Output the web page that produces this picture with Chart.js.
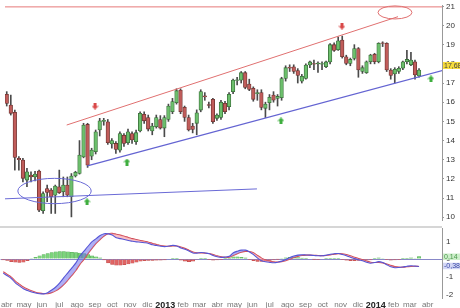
<!DOCTYPE html>
<html>
<head>
<meta charset="utf-8">
<script src="https://cdn.jsdelivr.net/npm/chart.js@4.4.1/dist/chart.umd.min.js"></script>
<style>
  html, body { margin: 0; padding: 0; background: #fff; }
  #wrap { position: relative; width: 460px; height: 308px; overflow: hidden; }
  #priceChart { position: absolute; left: 0; top: 0; }
  #macdChart { position: absolute; left: 0; top: 226px; }
</style>
</head>
<body>
<div id="wrap">
  <canvas id="priceChart" width="460" height="225"></canvas>
  <canvas id="macdChart" width="460" height="82"></canvas>
</div>
<script>
// weekly candles, first week starts 26 mar 2012
const firstWeek = new Date(2012, 2, 26);

const opens = [16.98,16.41,15.85,15.47,13.07,12.98,11.94,12.2,12.1,12.41,10.34,11.5,11.42,11.15,11.59,11.33,11.68,11.07,12.15,12.29,
  13.15,14.84,13.19,13.42,14.55,15.0,14.98,13.82,13.85,13.5,14.28,13.89,14.37,13.94,14.5,15.37,15.2,14.5,14.72,15.1,
  14.65,15.1,15.5,15.97,16.63,15.73,15.2,14.76,14.9,15.59,16.33,15.88,16.15,15.16,15.21,15.94,15.77,16.55,17.13,17.15,
  17.54,16.95,16.72,16.45,16.5,15.68,15.97,16.37,16.2,16.23,17.24,17.82,17.85,17.65,17.1,17.24,17.94,18.02,18.0,17.98,
  17.85,18.1,19.0,18.73,19.24,18.37,18.02,18.28,18.8,17.6,17.54,18.11,18.5,18.11,19.1,19.07,17.68,17.47,17.6,17.77,
  18.11,17.95,18.11,17.37];
const highs = [17.07,16.55,16.37,15.59,13.16,13.07,12.55,12.37,12.4,12.46,11.33,11.68,11.5,11.68,12.46,12.1,12.1,12.28,12.4,14.0,
  14.9,14.9,13.6,14.55,15.16,15.16,15.1,14.1,13.95,14.46,14.37,14.6,14.45,14.55,15.5,15.5,15.33,14.9,15.33,15.3,
  15.3,15.9,16.2,16.7,16.7,15.8,15.33,14.9,15.6,16.65,16.5,16.0,16.2,15.4,16.1,16.05,16.5,17.2,17.3,17.6,
  17.6,17.2,16.8,16.65,16.65,16.0,16.4,16.55,16.4,17.3,17.9,17.95,17.95,17.75,17.45,18.0,18.15,18.2,18.1,18.1,
  18.15,19.05,19.1,19.4,19.45,18.45,18.3,19.0,18.85,17.9,18.15,18.5,18.55,19.1,19.15,19.1,17.75,17.8,17.85,18.15,
  18.7,18.6,18.2,17.75];
const lows = [16.37,15.8,15.33,12.46,12.46,11.85,11.59,11.85,11.9,10.29,10.2,10.81,10.2,10.2,11.24,11.07,11.07,10.02,12.1,12.25,
  13.1,12.6,13.0,13.3,14.24,14.8,13.8,13.6,13.33,13.4,13.7,13.8,13.85,13.8,14.45,14.9,14.5,14.3,14.65,14.6,
  14.2,15.0,15.4,15.9,15.4,15.0,14.5,14.4,14.3,15.5,16.1,15.7,14.9,15.05,15.1,15.4,15.6,16.45,16.9,17.0,
  16.7,16.6,16.05,16.1,15.6,15.2,15.6,16.0,15.8,16.1,17.1,17.6,17.5,17.0,17.0,17.2,17.8,17.7,17.55,17.7,
  17.8,18.0,18.65,18.7,18.3,17.95,17.9,18.2,17.3,17.5,17.5,18.0,18.0,18.05,18.9,17.6,17.2,17.0,17.5,17.7,
  18.0,17.9,17.2,17.3];
const closes = [16.55,15.94,15.42,13.12,13.0,12.03,12.37,12.1,12.25,10.37,11.24,11.3,11.07,11.63,11.28,11.68,11.15,12.15,12.34,13.24,
  14.81,12.72,13.5,14.46,15.03,15.06,13.89,14.0,13.54,14.37,13.85,14.46,14.03,14.41,15.42,15.03,14.6,14.76,15.2,14.65,
  15.2,15.8,16.03,16.6,15.5,15.2,14.55,14.58,15.45,16.55,16.28,15.83,14.98,15.33,16.0,15.5,16.41,17.15,17.17,17.54,
  16.77,16.67,16.15,16.5,15.73,15.9,16.26,16.1,16.3,17.23,17.8,17.78,17.6,17.4,17.35,17.94,18.1,17.98,18.04,18.02,
  18.1,19.0,18.7,19.2,18.37,18.02,18.23,18.8,17.68,17.8,18.11,18.46,18.11,19.07,19.06,17.68,17.4,17.72,17.77,18.11,
  18.23,18.2,17.42,17.68];

// MACD panel, one value per week
const macdLine = [-0.8,-0.95,-1.1,-1.35,-1.52,-1.68,-1.78,-1.86,-1.92,-1.96,-1.97,-1.9,-1.75,-1.58,-1.35,-1.05,-0.78,-0.5,-0.22,0.18,
  0.45,0.72,0.98,1.15,1.33,1.43,1.42,1.35,1.2,1.15,1.1,1.05,1.0,0.97,0.95,0.92,0.88,0.8,0.76,0.72,
  0.7,0.73,0.77,0.74,0.62,0.55,0.45,0.34,0.33,0.37,0.34,0.3,0.2,0.13,0.09,0.11,0.15,0.35,0.44,0.5,
  0.5,0.4,0.25,0.05,-0.1,-0.16,-0.19,-0.21,-0.18,-0.12,-0.03,0.08,0.17,0.22,0.24,0.23,0.22,0.2,0.18,0.18,
  0.22,0.27,0.3,0.31,0.25,0.18,0.1,0.02,-0.04,-0.1,-0.18,-0.24,-0.2,-0.15,-0.2,-0.32,-0.44,-0.49,-0.48,-0.45,
  -0.41,-0.38,-0.4,-0.42];
const signalLine = [-0.72,-0.87,-1.02,-1.25,-1.42,-1.58,-1.7,-1.8,-1.88,-1.93,-1.96,-1.96,-1.9,-1.8,-1.65,-1.45,-1.2,-0.93,-0.65,-0.3,
  -0.02,0.3,0.6,0.88,1.1,1.3,1.43,1.45,1.4,1.35,1.28,1.22,1.15,1.1,1.05,1.0,0.95,0.88,0.82,0.76,
  0.73,0.72,0.74,0.73,0.68,0.6,0.5,0.4,0.35,0.34,0.33,0.31,0.25,0.18,0.12,0.1,0.1,0.2,0.3,0.38,
  0.43,0.42,0.35,0.2,0.05,-0.06,-0.12,-0.16,-0.17,-0.15,-0.1,-0.02,0.08,0.15,0.2,0.22,0.22,0.21,0.2,0.19,
  0.2,0.23,0.27,0.3,0.3,0.25,0.18,0.1,0.03,-0.04,-0.11,-0.18,-0.2,-0.2,-0.22,-0.28,-0.36,-0.43,-0.46,-0.46,
  -0.44,-0.42,-0.41,-0.42];
const macdHist = [-0.05,-0.08,-0.15,-0.18,-0.2,-0.18,-0.1,0.03,0.1,0.18,0.25,0.3,0.36,0.4,0.42,0.42,0.4,0.38,0.36,0.34,
  0.3,0.25,0.18,0.12,0.06,-0.05,-0.22,-0.3,-0.35,-0.35,-0.32,-0.28,-0.24,-0.18,-0.12,-0.1,-0.08,-0.08,-0.07,-0.06,
  -0.05,0.0,0.02,0.01,-0.06,-0.12,-0.15,-0.12,-0.03,0.04,0.02,-0.02,-0.06,-0.05,-0.02,0.02,0.06,0.12,0.12,0.1,
  0.06,-0.02,-0.1,-0.14,-0.14,-0.12,-0.08,-0.05,-0.01,0.03,0.07,0.1,0.1,0.08,0.05,0.02,0.0,-0.01,-0.02,0.0,
  0.02,0.04,0.04,0.02,-0.04,-0.07,-0.09,-0.1,-0.08,-0.07,-0.06,-0.05,0.02,0.06,0.03,-0.04,-0.06,-0.05,-0.02,0.02,
  0.04,0.06,0.03,0.14];
const macdLast = -0.38;

const monthLabels = ['abr','may','jun','jul','ago','sep','oct','nov','dic','2013','feb','mar',
  'abr','may','jun','jul','ago','sep','oct','nov','dic','2014','feb','mar','abr'];
const priceTicks = [10,11,12,13,14,15,16,17,18,19,20,21];
const macdTicks = [1,0,-1,-2];

// drawn lines and marks, in [week, price]
const topLine = [[-1, 20.97], [110, 20.97]];
const resistLine = [[15.83, 14.81], [97.8, 20.46]];
const supportLine = [[20.93, 12.68], [110, 17.72]];
const baseLine = [[-1, 10.95], [62.9, 11.48]];
const blueEllipse = [12.82, 11.37, 9.08, 0.66];
const redEllipse = [97.05, 20.68, 4.2, 0.34];
const arrowsDown = [[22.84, 15.8], [83.94, 19.97]];
const arrowsUp = [[20.86, 10.8], [30.75, 12.88], [68.85, 15.02], [105.96, 17.21]];

const weekMs = 7 * 24 * 3600 * 1000;
const monthWeeks = monthLabels.map((m, k) => (new Date(2012, 3 + k, 1) - firstWeek) / weekMs);
const fmt = v => v.toFixed(2).replace('.', ',');
const FONT = '"Liberation Sans", Arial, sans-serif';

// pixel layout of the reference: week 0 at x=2.7, 4.042px per week
const WEEK0_PX = 2.7, WEEK_PX = 4.042;

function makeArrow(color, down) {
    const c = document.createElement('canvas');
    c.width = 7; c.height = 7;
    const g = c.getContext('2d');
    g.fillStyle = color;
    g.beginPath();
    [[3.5,0],[7,3.5],[5,3.5],[5,7],[2,7],[2,3.5],[0,3.5]].forEach(([x, y], i) => {
        const yy = down ? 7 - y : y;
        if (i) g.lineTo(x, yy); else g.moveTo(x, yy);
    });
    g.closePath();
    g.fill();
    return c;
}

const toPts = arr => arr.map(p => ({x: p[0], y: p[1]}));
const up = (i) => closes[i] >= opens[i];
const yAxisFit = s => { s.width = 18; s.paddingTop = 0; s.paddingBottom = 0; };

// match value ranges to the chart area actually laid out
function pin(chart, refVal, refPx, unitPx) {
    const a = chart.chartArea;
    const sx = chart.options.scales.x, sy = chart.options.scales.y;
    sx.min = (a.left - WEEK0_PX) / WEEK_PX;
    sx.max = (a.right - WEEK0_PX) / WEEK_PX;
    sy.max = refVal + (refPx - a.top) / unitPx;
    sy.min = refVal - (a.bottom - refPx) / unitPx;
    chart.update();
}

const shapes = {
    id: 'shapes',
    afterDatasetsDraw(chart) {
        const {ctx, scales: {x, y}} = chart;
        [[blueEllipse, '#6a6ad6'], [redEllipse, '#e07070']].forEach(([e, col]) => {
            const cx = x.getPixelForValue(e[0]), cy = y.getPixelForValue(e[1]);
            const rx = x.getPixelForValue(e[0] + e[2]) - cx;
            const ry = cy - y.getPixelForValue(e[1] + e[3]);
            ctx.save();
            ctx.strokeStyle = col;
            ctx.lineWidth = 1;
            ctx.beginPath();
            ctx.ellipse(cx, cy, rx, ry, 0, 0, Math.PI * 2);
            ctx.stroke();
            ctx.restore();
        });
    },
    afterDraw(chart) {
        const {ctx, scales: {y}} = chart;
        const last = closes[closes.length - 1];
        const py = y.getPixelForValue(last) - 4.5;
        ctx.save();
        ctx.fillStyle = '#f7dc3c';
        ctx.fillRect(443, py - 3.5, 17, 7);
        ctx.fillStyle = '#444';
        ctx.font = '7px ' + FONT;
        ctx.textBaseline = 'middle';
        ctx.fillText(fmt(last), 444, py + 0.5);
        ctx.restore();
    }
};

const priceChart = new Chart(document.getElementById('priceChart'), {
    type: 'bar',
    data: {
        datasets: [
            {
                type: 'bar', label: 'wick', order: 3, grouped: false,
                data: highs.map((h, i) => ({x: i, y: [lows[i], h]})),
                backgroundColor: '#4a4a4a', barThickness: 1
            },
            {
                type: 'bar', label: 'body', order: 2, grouped: false,
                data: opens.map((o, i) => ({x: i, y: [o, Math.abs(closes[i] - o) < 0.04 ? o + (up(i) ? 0.04 : -0.04) : closes[i]]})),
                backgroundColor: opens.map((o, i) => up(i) ? '#6cbf6c' : '#c05c5a'),
                borderColor: opens.map((o, i) => up(i) ? '#3a6e3a' : '#6e3432'),
                borderWidth: 0.8, borderSkipped: false, barThickness: 3.6
            },
            { type: 'line', order: 1, data: toPts(topLine), borderColor: '#e67878', borderWidth: 1, pointRadius: 0 },
            { type: 'line', order: 1, data: toPts(resistLine), borderColor: '#e07070', borderWidth: 1, pointRadius: 0 },
            { type: 'line', order: 1, data: toPts(supportLine), borderColor: '#6464d2', borderWidth: 1.2, pointRadius: 0 },
            { type: 'line', order: 1, data: toPts(baseLine), borderColor: '#6a6ad6', borderWidth: 1, pointRadius: 0 },
            { type: 'scatter', order: 0, data: toPts(arrowsDown), pointStyle: makeArrow('#d94848', true) },
            { type: 'scatter', order: 0, data: toPts(arrowsUp), pointStyle: makeArrow('#3fae3f', false) }
        ]
    },
    options: {
        responsive: false,
        animation: false,
        layout: { padding: 0 },
        plugins: { legend: { display: false }, tooltip: { enabled: false } },
        scales: {
            x: { type: 'linear', min: -0.668, max: 108.68, offset: false, display: false },
            y: {
                position: 'right', min: 9.6, max: 21.33, beginAtZero: false,
                afterFit: yAxisFit,
                afterBuildTicks: s => { s.ticks = priceTicks.map(v => ({value: v})); },
                grid: { drawOnChartArea: false, tickLength: 2, color: '#999' },
                border: { display: true, color: '#999' },
                ticks: { padding: 2, color: '#333', font: { size: 8, family: FONT } }
            }
        }
    },
    plugins: [shapes]
});
pin(priceChart, 21, 6.3, 19.18);

const macdLabels = {
    id: 'macdLabels',
    beforeDraw(chart) {
        const {ctx} = chart;
        ctx.save();
        ctx.fillStyle = '#d6d6d6';
        ctx.fillRect(0, 0, 442, 2);
        ctx.restore();
    },
    afterDraw(chart) {
        const {ctx, scales: {y}} = chart;
        const boxes = [
            [macdHist[macdHist.length - 1], '#cdeecb', '#4c9a4c'],
            [macdLast, '#d3d6f4', '#3a4aa8']
        ];
        ctx.save();
        ctx.font = '7px ' + FONT;
        ctx.textBaseline = 'middle';
        boxes.forEach(([v, bg, fg]) => {
            const py = y.getPixelForValue(v);
            ctx.fillStyle = bg;
            ctx.fillRect(443, py - 3, 17, 6.5);
            ctx.fillStyle = fg;
            ctx.fillText(fmt(v), 444, py + 0.5);
        });
        ctx.restore();
    }
};

const macdChart = new Chart(document.getElementById('macdChart'), {
    type: 'bar',
    data: {
        datasets: [
            {
                type: 'bar', order: 3, grouped: false,
                data: macdHist.map((v, i) => ({x: i, y: v})),
                backgroundColor: macdHist.map(v => v >= 0 ? '#7cd47c' : '#e06464'),
                borderColor: macdHist.map(v => v >= 0 ? '#52a852' : '#b84444'),
                borderWidth: 0.5, barThickness: 3.4
            },
            {
                type: 'line', order: 2, data: signalLine.map((v, i) => ({x: i, y: v})),
                borderColor: '#d84a4a', borderWidth: 1.1, pointRadius: 0, tension: 0.3, fill: false
            },
            {
                type: 'line', order: 1, data: macdLine.map((v, i) => ({x: i, y: v})),
                borderColor: '#5555d6', borderWidth: 1.1, pointRadius: 0, tension: 0.3,
                fill: { target: 1, above: 'rgba(110,110,235,0.55)', below: 'rgba(245,140,150,0.55)' }
            }
        ]
    },
    options: {
        responsive: false,
        animation: false,
        layout: { padding: { top: 2, left: 0, right: 0, bottom: 0 } },
        plugins: { legend: { display: false }, tooltip: { enabled: false } },
        scales: {
            x: {
                type: 'linear', min: -0.668, max: 108.68, offset: false,
                afterFit: s => { s.height = 10; s.paddingLeft = 0; s.paddingRight = 0; },
                afterBuildTicks: s => { s.ticks = monthWeeks.map(v => ({value: v})); },
                grid: { display: false, drawTicks: false },
                border: { display: false },
                ticks: {
                    autoSkip: false, maxRotation: 0, padding: 2,
                    callback: (v, i) => monthLabels[i],
                    color: c => /^\d/.test(monthLabels[c.index]) ? '#222' : '#777',
                    font: c => /^\d/.test(monthLabels[c.index])
                        ? { size: 9, weight: 'bold', family: FONT }
                        : { size: 8, family: FONT }
                }
            },
            y: {
                position: 'right', min: -2.2, max: 1.75, beginAtZero: false,
                afterFit: yAxisFit,
                afterBuildTicks: s => { s.ticks = macdTicks.map(v => ({value: v})); },
                grid: {
                    tickLength: 2,
                    color: c => c.tick && c.tick.value === 0 ? '#8888c8' : 'rgba(0,0,0,0)'
                },
                border: { display: true, color: '#999' },
                ticks: { padding: 2, color: '#333', font: { size: 8, family: FONT } }
            }
        }
    },
    plugins: [macdLabels]
});
pin(macdChart, 0, 33, 17.7);
</script>
</body>
</html>
